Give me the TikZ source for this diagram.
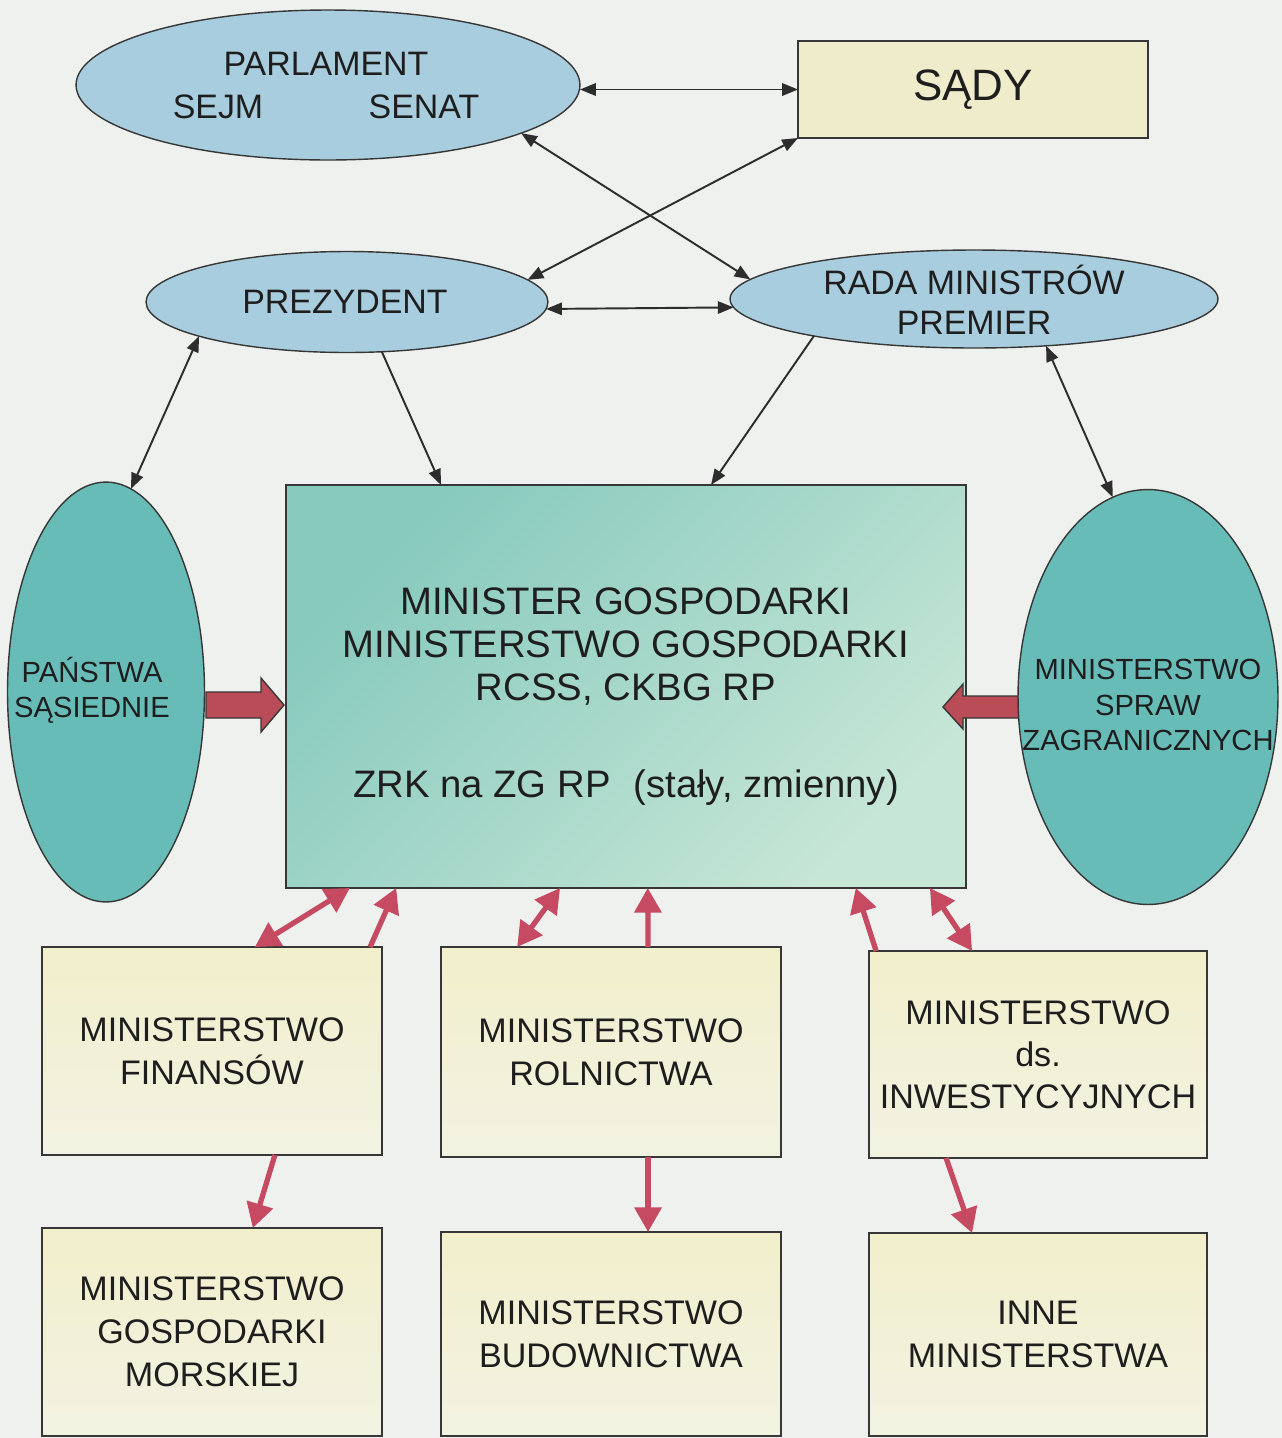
\documentclass[tikz,border=0pt]{standalone}
\usepackage{fontspec}
\setmainfont{Liberation Sans}
\usetikzlibrary{arrows.meta,calc,shapes.geometric}
\definecolor{bg}{RGB}{238,241,238}
\definecolor{ellblue}{RGB}{168,205,222}
\definecolor{ellteal}{RGB}{104,188,184}
\definecolor{boxyel}{RGB}{242,239,203}
\definecolor{boxyel2}{RGB}{242,242,226}
\definecolor{sadyyel}{RGB}{238,236,202}
\definecolor{mainA}{RGB}{135,202,190}
\definecolor{mainB}{RGB}{198,230,214}
\definecolor{edgegrey}{RGB}{55,55,55}
\definecolor{txt}{RGB}{30,30,30}
\definecolor{redarr}{RGB}{198,74,98}
\definecolor{fatred}{RGB}{186,76,88}
\definecolor{blkarr}{RGB}{45,45,45}
\newcommand\myfs[2]{\fontsize{#1}{#2}\selectfont}
\begin{document}
\begin{tikzpicture}[x=0.02cm,y=-0.02cm,
  ell/.style={ellipse, draw=edgegrey, line width=0.8pt, inner sep=0pt, outer sep=0pt},
  bell/.style={ell, fill=ellblue},
  tell/.style={ell, fill=ellteal},
  lbl/.style={text=txt, align=center, inner sep=0pt},
  minbox/.style={rectangle, draw=edgegrey, line width=0.9pt, top color=boxyel, bottom color=boxyel2,
     minimum width=6.8cm, inner sep=0pt, outer sep=0pt, text=txt, align=center, font=\myfs{19.4}{24.5}},
  barr/.style={draw=blkarr, line width=1.1pt, -{Triangle[length=9pt,width=7pt]}},
  bdarr/.style={draw=blkarr, line width=1.1pt, {Triangle[length=9pt,width=7pt]}-{Triangle[length=9pt,width=7pt]}},
  rarr/.style={draw=redarr, line width=3pt, -{Triangle[length=14pt,width=15pt]}},
  rdarr/.style={draw=redarr, line width=3pt, {Triangle[length=14pt,width=15pt]}-{Triangle[length=14pt,width=15pt]}},
  fat/.style={fill=fatred, draw=edgegrey, line width=0.8pt, line join=miter}
]
\fill[bg] (0,0) rectangle (1282,1438);

% top level
\node[bell, minimum width=10.08cm, minimum height=3cm] (parl) at (328,85) {};
\node[lbl, font=\myfs{19.3}{22}] (parlT) at (326,64) {PARLAMENT};
\node[lbl, font=\myfs{19.3}{22}] (sejmT) at (218,107) {SEJM};
\node[lbl, font=\myfs{19.3}{22}] (senatT) at (424,107) {SENAT};

\node[rectangle, draw=edgegrey, line width=0.9pt, fill=sadyyel, minimum width=7cm, minimum height=1.94cm,
      inner sep=0pt, outer sep=0pt, text=txt, font=\myfs{25}{28}] (sady) at (973,89.5) {SĄDY};

\node[bell, minimum width=8.04cm, minimum height=2.02cm] (prez) at (347,302) {};
\node[lbl, font=\myfs{19.3}{22}] (prezT) at (345,302) {PREZYDENT};

\node[bell, minimum width=9.76cm, minimum height=1.96cm] (rada) at (974,299) {};
\node[lbl, font=\myfs{19.3}{22.8}] (radaT) at (974,300) {RADA MINISTRÓW\\PREMIER};

% main
\node[rectangle, draw=edgegrey, line width=0.9pt, top color=mainA, bottom color=mainB, shading angle=45,
      minimum width=13.6cm, minimum height=8.06cm, inner sep=0pt, outer sep=0pt] (main) at (626,686.5) {};
\node[lbl, font=\myfs{21.8}{24.5}] (mainT1) at (626,647) {MINISTER GOSPODARKI\\MINISTERSTWO GOSPODARKI\\RCSS, CKBG RP};
\node[lbl, font=\myfs{21.8}{24.5}] (mainT2) at (626,788) {ZRK na ZG RP\hspace{0.6em}(stały, zmienny)};

% fat arrows
\draw[fat] (206,692) -- (261,692) -- (261,678) -- (284,705) -- (261,732) -- (261,718) -- (206,718) -- cycle;
\draw[fat] (1019,696) -- (963,696) -- (963,684) -- (943,707) -- (963,729) -- (963,718) -- (1019,718) -- cycle;

% side ellipses
\node[tell, minimum width=3.94cm, minimum height=8.4cm] (panst) at (106,692) {};
\node[lbl, font=\myfs{16.6}{20}] (panstT) at (92,690) {PAŃSTWA\\SĄSIEDNIE};
\node[tell, minimum width=5.2cm, minimum height=8.3cm] (msz) at (1148,697) {};
\node[lbl, font=\myfs{16.6}{20}] (mszT) at (1148,705) {MINISTERSTWO\\SPRAW\\ZAGRANICZNYCH};

% ministries
\node[minbox, minimum height=4.16cm] (mf) at (212,1051) {MINISTERSTWO\\FINANSÓW};
\node[minbox, minimum height=4.2cm] (mr) at (611,1052) {MINISTERSTWO\\ROLNICTWA};
\node[minbox, minimum width=6.76cm, minimum height=4.14cm, font=\myfs{19.4}{24}] (mdsi) at (1038,1054.5) {MINISTERSTWO\\ds.\\INWESTYCYJNYCH};
\node[minbox, minimum height=4.16cm] (mgm) at (212,1332) {MINISTERSTWO\\GOSPODARKI\\MORSKIEJ};
\node[minbox, minimum height=4.08cm] (mb) at (611,1334) {MINISTERSTWO\\BUDOWNICTWA};
\node[minbox, minimum width=6.76cm, minimum height=4.06cm] (im) at (1038,1334.5) {INNE\\MINISTERSTWA};

% black connectors
\draw[bdarr] (sady.west -| parl.east) -- (sady.west);
\draw[bdarr] (parl.-14) -- (rada.175);
\draw[bdarr] (sady.south west) -- (prez.7);
\draw[bdarr] (prez.-2.3) -- (rada.182.6);
\draw[barr] (prez.-55) -- ($(main.north west)!0.228!(main.north east)$);
\draw[barr] (rada.193) -- ($(main.north west)!0.625!(main.north east)$);
\draw[bdarr] (rada.-33) -- (msz.100);
\draw[bdarr] (prez.193.5) -- (panst.83);

% red connectors
\draw[rdarr] ($(mf.north west)!0.626!(mf.north east)$) -- ($(main.south west)!0.094!(main.south east)$);
\draw[rarr] ($(mf.north west)!0.965!(mf.north east)$) -- ($(main.south west)!0.162!(main.south east)$);
\draw[rdarr] ($(mr.north west)!0.224!(mr.north east)$) -- ($(main.south west)!0.403!(main.south east)$);
\draw[rarr] ($(mr.north west)!0.609!(mr.north east)$) -- ($(main.south west)!0.532!(main.south east)$);
\draw[rarr] ($(mdsi.north west)!0.021!(mdsi.north east)$) -- ($(main.south west)!0.838!(main.south east)$);
\draw[rdarr] ($(mdsi.north west)!0.305!(mdsi.north east)$) -- ($(main.south west)!0.947!(main.south east)$);
\draw[rarr] ($(mf.south west)!0.685!(mf.south east)$) -- ($(mgm.north west)!0.62!(mgm.north east)$);
\draw[rarr] ($(mr.south west)!0.609!(mr.south east)$) -- ($(mb.north west)!0.609!(mb.north east)$);
\draw[rarr] ($(mdsi.south west)!0.228!(mdsi.south east)$) -- ($(im.north west)!0.305!(im.north east)$);
\end{tikzpicture}
\end{document}
